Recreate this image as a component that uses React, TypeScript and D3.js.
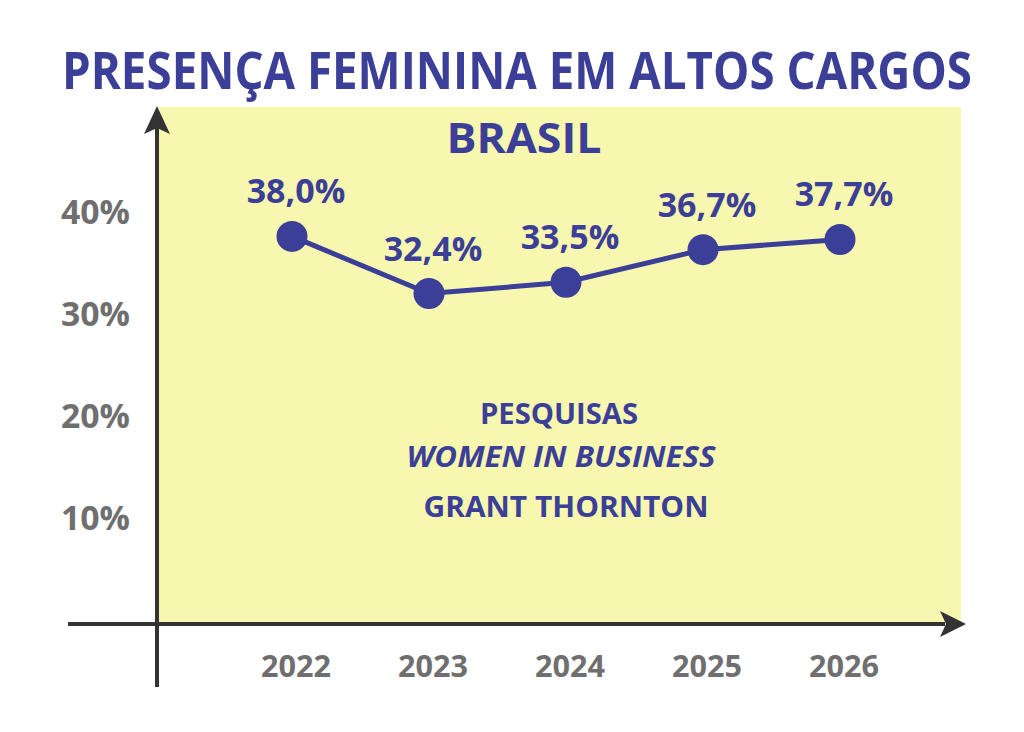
import React from "react";
import * as d3 from "d3";

const years = ["2022", "2023", "2024", "2025", "2026"];
const values = [38.0, 32.4, 33.5, 36.7, 37.7];
const yTicks = [10, 20, 30, 40];
const titleText = "PRESENÇA FEMININA EM ALTOS CARGOS";
const subtitleText = "BRASIL";
const sourceLines = ["PESQUISAS", "WOMEN IN BUSINESS", "GRANT THORNTON"];

const W = 1024;
const H = 732;
const BLUE = "#3c3f97";
const GREY = "#6f6f70";
const AXIS = "#333333";
const YELLOW = "#f7f7b0";
const FONT = "'Open Sans', 'Noto Sans', sans-serif";

export default function App() {
  const x = d3.scalePoint<string>().domain(years).range([292, 840]);
  const y = d3.scaleLinear().domain([0, 40]).range([624, 216]);
  const line = d3
    .line<number>()
    .x((_, i) => x(years[i]) as number)
    .y((v) => y(v));
  const fmt = (v: number) => v.toFixed(1).replace(".", ",") + "%";

  return (
    <svg
      width={W}
      height={H}
      style={{ position: "absolute", left: 0, top: 0, background: "#fff" }}
      fontFamily={FONT}
    >
      <rect x={0} y={0} width={W} height={H} fill="#fff" />
      <rect x={159} y={107} width={802} height={516} fill={YELLOW} />

      <g transform="translate(517,89) scale(1,1.15)">
        <text
          x={0}
          y={0}
          textAnchor="middle"
          fontSize={45}
          fontWeight={700}
          fill={BLUE}
          textLength={910}
          lengthAdjust="spacingAndGlyphs"
        >
          {titleText}
        </text>
      </g>
      <text
        x={524}
        y={153}
        textAnchor="middle"
        fontSize={42}
        fontWeight={700}
        fill={BLUE}
        textLength={155}
        lengthAdjust="spacingAndGlyphs"
      >
        {subtitleText}
      </text>

      {/* axes */}
      <line x1={68} y1={y(0)} x2={945} y2={y(0)} stroke={AXIS} strokeWidth={4} />
      <path d={`M966,${y(0)} L940,${y(0) - 13} L946,${y(0)} L940,${y(0) + 13} Z`} fill={AXIS} />
      <line x1={157} y1={687} x2={157} y2={128} stroke={AXIS} strokeWidth={4} />
      <path d={`M157,106 L144,134 L157,128 L170,134 Z`} fill={AXIS} />

      {yTicks.map((t) => (
        <text
          key={t}
          x={130}
          y={y(t) + 8}
          textAnchor="end"
          fontSize={34}
          fontWeight={700}
          fill={GREY}
          textLength={69}
          lengthAdjust="spacingAndGlyphs"
        >
          {t + "%"}
        </text>
      ))}

      {years.map((yr) => (
        <text
          key={yr}
          x={(x(yr) as number) + 4}
          y={677}
          textAnchor="middle"
          fontSize={31}
          fontWeight={700}
          fill={GREY}
          textLength={70}
          lengthAdjust="spacingAndGlyphs"
        >
          {yr}
        </text>
      ))}

      <path d={line(values) || ""} fill="none" stroke={BLUE} strokeWidth={5} />
      {values.map((v, i) => (
        <circle key={i} cx={x(years[i]) as number} cy={y(v)} r={15.5} fill={BLUE} />
      ))}
      {values.map((v, i) => (
        <text
          key={"l" + i}
          x={(x(years[i]) as number) + 4}
          y={y(v) - 33}
          textAnchor="middle"
          fontSize={34}
          fontWeight={700}
          fill={BLUE}
        >
          {fmt(v)}
        </text>
      ))}

      <text x={559} y={424} textAnchor="middle" fontSize={29} fontWeight={700} fill={BLUE} textLength={158} lengthAdjust="spacingAndGlyphs">
        {sourceLines[0]}
      </text>
      <text x={561} y={467} textAnchor="middle" fontSize={29} fontWeight={700} fontStyle="italic" fill={BLUE} textLength={309} lengthAdjust="spacingAndGlyphs">
        {sourceLines[1]}
      </text>
      <text x={566} y={517} textAnchor="middle" fontSize={29} fontWeight={700} fill={BLUE} textLength={285} lengthAdjust="spacingAndGlyphs">
        {sourceLines[2]}
      </text>
    </svg>
  );
}
